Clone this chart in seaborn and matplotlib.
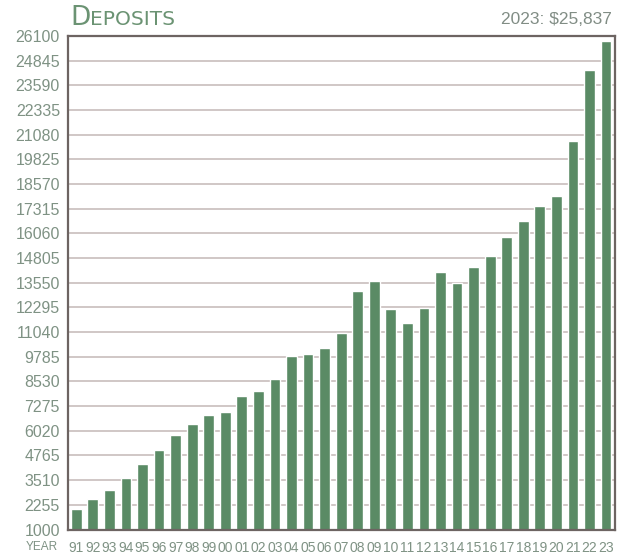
import matplotlib
matplotlib.use("Agg")
import matplotlib.pyplot as plt
import seaborn as sns
import pandas as pd
from matplotlib import font_manager

# Annual deposits, 1991-2023
years = ["91", "92", "93", "94", "95", "96", "97", "98", "99", "00", "01",
         "02", "03", "04", "05", "06", "07", "08", "09", "10", "11", "12",
         "13", "14", "15", "16", "17", "18", "19", "20", "21", "22", "23"]
deposits = [2045, 2540, 3010, 3605, 4350, 5060, 5800, 6370, 6830, 6980, 7810,
            8065, 8660, 9800, 9920, 10225, 10990, 13125, 13650, 12240, 11500, 12290,
            14095, 13545, 14360, 14905, 15890, 16705, 17450, 17940, 20775, 24355, 25837]
y_ticks = [1000, 2255, 3510, 4765, 6020, 7275, 8530, 9785, 11040, 12295, 13550,
           14805, 16060, 17315, 18570, 19825, 21080, 22335, 23590, 24845, 26100]

df = pd.DataFrame({"year": years, "deposits": deposits})

sns.set_theme(style="white")

installed = {f.name for f in font_manager.fontManager.ttflist}
narrow = "Liberation Sans Narrow" if "Liberation Sans Narrow" in installed else "Liberation Sans"
plt.rcParams["font.family"] = ["Liberation Sans", "DejaVu Sans"]

BAR = "#5a8b65"
LABEL = "#7f9284"
TITLE = "#6b9373"
FRAME = "#6d6462"
GRID = "#cdc3c2"

fig = plt.figure(figsize=(6.26, 5.58), dpi=100)
ax = fig.add_axes([68.3 / 626, 1 - 529.5 / 558, (615.3 - 68.3) / 626, (529.5 - 36) / 558])

sns.barplot(data=df, x="year", y="deposits", order=years, color=BAR,
            saturation=1, width=0.65, ax=ax, zorder=3)

ax.set_ylim(1000, 26100)
ax.set_xlim(-0.48, len(years) - 0.44)
ax.set_yticks(y_ticks)
ax.set_yticklabels([str(v) for v in y_ticks])
ax.yaxis.grid(True, color=GRID, linewidth=1.3, zorder=0)
ax.xaxis.grid(False)
ax.set_axisbelow(True)
ax.set_xlabel("")
ax.set_ylabel("")

for side in ax.spines.values():
    side.set_visible(True)
    side.set_color(FRAME)
    side.set_linewidth(1.6)
    side.set_zorder(5)

ax.tick_params(axis="y", length=0, pad=6, labelsize=11.5, labelcolor=LABEL)
ax.tick_params(axis="x", length=0, pad=8, labelsize=10, labelcolor=LABEL)
for lab in ax.get_xticklabels():
    lab.set_fontfamily(narrow)

# Axis caption under the value labels
fig.text(58 / 626, 1 - 547.5 / 558, "YEAR", ha="right", va="center",
         fontsize=8.5, color=LABEL, family=narrow)

# Small-caps heading
head = fig.text(70 / 626, 1 - 25 / 558, "D", ha="left", va="baseline",
                fontsize=19, color=TITLE, family="DejaVu Sans")
ax.annotate("EPOSITS", xy=(1.0, 1 - 25 / 558), xycoords=(head, "figure fraction"),
            ha="left", va="baseline", fontsize=14.5, color=TITLE, family="DejaVu Sans")

fig.text(612 / 626, 1 - 24.5 / 558, "2023: $25,837", ha="right", va="baseline",
         fontsize=12.5, color="#818d85")

fig.savefig("out.png", dpi=100, facecolor="white")
